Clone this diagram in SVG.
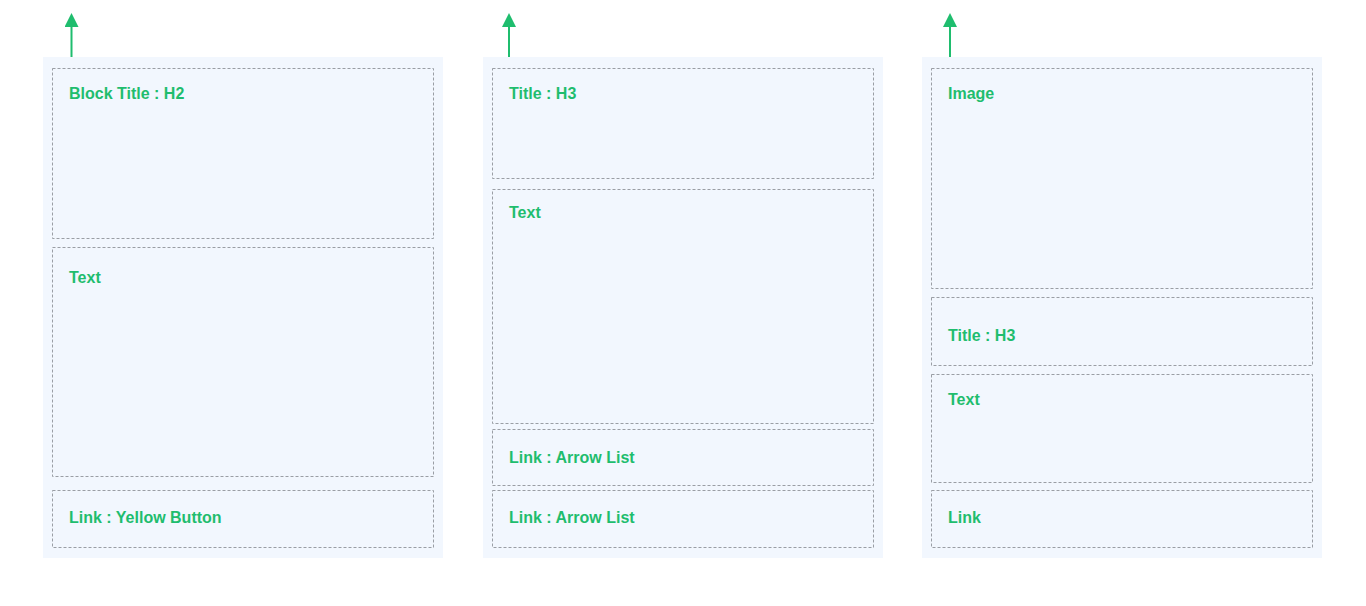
<svg xmlns="http://www.w3.org/2000/svg" width="1366" height="606" viewBox="0 0 1366 606">
<style>
.panel{fill:#f2f7fe;}
.box{fill:none;stroke:#9a9ea5;stroke-width:1;stroke-dasharray:3 2;}
.lbl{font-family:"Liberation Sans",Arial,sans-serif;font-weight:bold;font-size:16px;fill:#1fbd6e;}
.arr{stroke:#1fbd6e;stroke-width:2;fill:none;}
</style>
<defs>
<marker id="ah" markerWidth="14" markerHeight="14" refX="0" refY="7" orient="auto" markerUnits="userSpaceOnUse" viewBox="0 0 14 14">
<path d="M0,0 L14,7 L0,14 Z" fill="#1fbd6e"/>
</marker>
</defs>
<rect x="0" y="0" width="1366" height="606" fill="#ffffff"/>
<g id="col1">
<rect class="panel" x="43" y="57" width="400" height="501"/>
<g id="c1-title"><rect class="box" x="52.5" y="68.5" width="381" height="170"/><text class="lbl" x="69" y="99">Block Title : H2</text></g>
<g id="c1-text"><rect class="box" x="52.5" y="247.5" width="381" height="229"/><text class="lbl" x="69" y="283">Text</text></g>
<g id="c1-link"><rect class="box" x="52.5" y="490.5" width="381" height="57"/><text class="lbl" x="69" y="523">Link : Yellow Button</text></g>
</g>
<g id="col2">
<rect class="panel" x="483" y="57" width="400" height="501"/>
<g id="c2-title"><rect class="box" x="492.5" y="68.5" width="381" height="110"/><text class="lbl" x="509" y="99">Title : H3</text></g>
<g id="c2-text"><rect class="box" x="492.5" y="189.5" width="381" height="234"/><text class="lbl" x="509" y="218">Text</text></g>
<g id="c2-link1"><rect class="box" x="492.5" y="429.5" width="381" height="56"/><text class="lbl" x="509" y="463">Link : Arrow List</text></g>
<g id="c2-link2"><rect class="box" x="492.5" y="490.5" width="381" height="57"/><text class="lbl" x="509" y="523">Link : Arrow List</text></g>
</g>
<g id="col3">
<rect class="panel" x="922" y="57" width="400" height="501"/>
<g id="c3-image"><rect class="box" x="931.5" y="68.5" width="381" height="220"/><text class="lbl" x="948" y="99">Image</text></g>
<g id="c3-title"><rect class="box" x="931.5" y="297.5" width="381" height="68"/><text class="lbl" x="948" y="341">Title : H3</text></g>
<g id="c3-text"><rect class="box" x="931.5" y="374.5" width="381" height="108"/><text class="lbl" x="948" y="405">Text</text></g>
<g id="c3-link"><rect class="box" x="931.5" y="490.5" width="381" height="57"/><text class="lbl" x="948" y="523">Link</text></g>
</g>
<g id="connectors">
<line class="arr" x1="71.5" y1="57" x2="71.5" y2="27" marker-end="url(#ah)"/>
<line class="arr" x1="509" y1="57" x2="509" y2="27" marker-end="url(#ah)"/>
<line class="arr" x1="950" y1="57" x2="950" y2="27" marker-end="url(#ah)"/>
</g>
</svg>
